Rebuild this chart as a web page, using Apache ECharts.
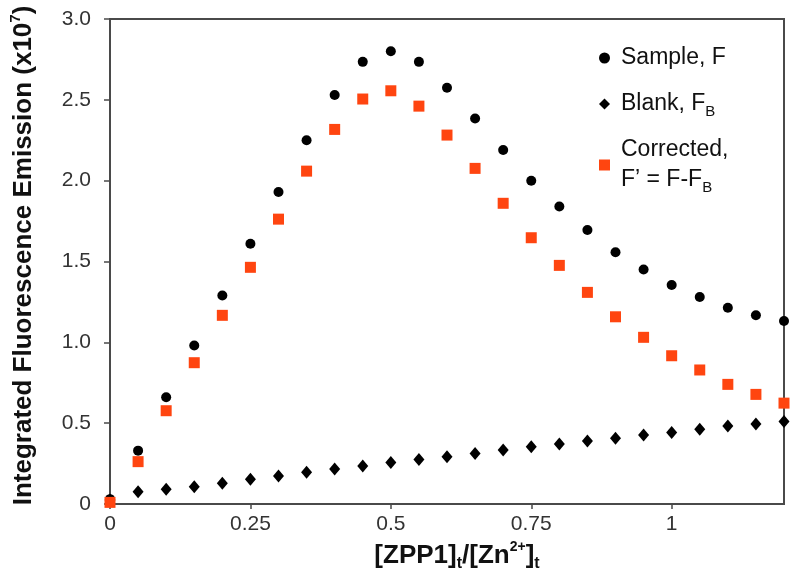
<!DOCTYPE html>
<html>
<head>
<meta charset="utf-8">
<script src="https://cdn.jsdelivr.net/npm/echarts@6/dist/echarts.min.js"></script>
<style>
html,body{margin:0;padding:0;background:#fff;}
#chart{width:800px;height:580px;}
</style>
</head>
<body>
<div id="chart"></div>
<script>
// ---- data ----
const ratios = [0, 0.05, 0.1, 0.15, 0.2, 0.25, 0.3, 0.35, 0.4, 0.45, 0.5, 0.55, 0.6, 0.65, 0.7, 0.75, 0.8, 0.85, 0.9, 0.95, 1.0, 1.05, 1.1, 1.15, 1.2];
const sampleF = [0.03, 0.33, 0.66, 0.98, 1.29, 1.61, 1.93, 2.25, 2.53, 2.735, 2.80, 2.735, 2.575, 2.385, 2.19, 2.0, 1.84, 1.695, 1.557, 1.451, 1.355, 1.28, 1.214, 1.168, 1.132];
const blankFB = [0.025, 0.076, 0.091, 0.107, 0.128, 0.153, 0.173, 0.196, 0.216, 0.235, 0.256, 0.276, 0.293, 0.313, 0.334, 0.354, 0.371, 0.390, 0.406, 0.427, 0.443, 0.462, 0.482, 0.495, 0.511];
const correctedF = [0.01, 0.262, 0.577, 0.874, 1.167, 1.464, 1.762, 2.059, 2.317, 2.505, 2.556, 2.461, 2.282, 2.076, 1.860, 1.647, 1.476, 1.309, 1.158, 1.031, 0.917, 0.829, 0.740, 0.678, 0.624];
const xTicks = [0, 0.25, 0.5, 0.75, 1];
const yTicks = [0, 0.5, 1.0, 1.5, 2.0, 2.5, 3.0];
const seriesNames = ['Sample, F', 'Blank, FB', 'Corrected, F\u2019 = F-FB'];

const pairs = ys => ratios.map((x, i) => [x, ys[i]]);
const FONT = '"Liberation Sans", Arial, Helvetica, sans-serif';
const AXIS = '#4a4a4a';

const legendLabels = {
  'Sample, F': 'Sample, F',
  'Blank, FB': 'Blank, F{sub|B}',
  'Corrected, F\u2019 = F-FB': 'Corrected,\nF\u2019 = F-F{sub|B}'
};

const chart = echarts.init(document.getElementById('chart'), null, {renderer: 'canvas'});
chart.setOption({
  animation: false,
  backgroundColor: '#fff',
  textStyle: {fontFamily: FONT},
  grid: {left: 106, right: 16, top: 19, bottom: 76, show: true, borderColor: AXIS, borderWidth: 2, backgroundColor: 'transparent'},
  legend: {
    orient: 'vertical',
    left: 599, top: 43,
    padding: 0,
    itemGap: 16,
    itemWidth: 11, itemHeight: 11,
    selectedMode: false,
    data: [
      {name: seriesNames[0], icon: 'circle', itemStyle: {color: '#000', opacity: 1}},
      {name: seriesNames[1], icon: 'diamond', itemStyle: {color: '#000', opacity: 1}},
      {name: seriesNames[2], icon: 'rect', itemStyle: {color: '#ff4510', opacity: 1}}
    ],
    formatter: n => legendLabels[n],
    textStyle: {
      fontFamily: FONT, fontSize: 23, color: '#111', lineHeight: 30, padding: [0, 0, 0, 6],
      rich: {
        sub: {fontFamily: FONT, fontSize: 15, color: '#111', verticalAlign: 'bottom', lineHeight: 30}
      }
    }
  },
  xAxis: {
    type: 'value', min: 0, max: 1.2, interval: 0.25,
    name: '[ZPP1]{sub|t}/[Zn{sup|2+}]{sub|t}',
    nameLocation: 'middle', nameGap: 32,
    nameTextStyle: {
      fontFamily: FONT, fontSize: 26, fontWeight: 'bold', color: '#111', lineHeight: 32, padding: [0, 0, 0, 20],
      rich: {
        sub: {fontFamily: FONT, fontSize: 16, fontWeight: 'bold', color: '#111', verticalAlign: 'bottom', lineHeight: 32},
        sup: {fontFamily: FONT, fontSize: 14, color: '#111', verticalAlign: 'top', lineHeight: 32}
      }
    },
    axisLine: {show: true, onZero: false, lineStyle: {color: AXIS, width: 2}},
    axisTick: {show: true, inside: false, length: 5, lineStyle: {color: AXIS, width: 1.5}, customValues: xTicks},
    axisLabel: {fontFamily: FONT, fontSize: 21, color: '#333', margin: 10, customValues: xTicks,
      formatter: v => String(v)},
    splitLine: {show: false}
  },
  yAxis: {
    type: 'value', min: 0, max: 3, interval: 0.5,
    name: 'Integrated Fluorescence Emission (x10{sup|7})',
    nameLocation: 'middle', nameGap: 70, nameRotate: 90,
    nameTextStyle: {
      fontFamily: FONT, fontSize: 26, fontWeight: 'bold', color: '#111', lineHeight: 32, padding: [0, 0, 0, 12],
      rich: {
        sup: {fontFamily: FONT, fontSize: 15, color: '#111', verticalAlign: 'top', lineHeight: 32}
      }
    },
    axisLine: {show: true, onZero: false, lineStyle: {color: AXIS, width: 2}},
    axisTick: {show: true, inside: false, length: 6, lineStyle: {color: AXIS, width: 1.5}, customValues: yTicks},
    axisLabel: {fontFamily: FONT, fontSize: 21, color: '#333', margin: 19, customValues: yTicks,
      formatter: v => v === 0 ? '0' : v.toFixed(1)},
    splitLine: {show: false}
  },
  series: [
    {name: seriesNames[0], type: 'scatter', symbol: 'circle', symbolSize: 10, itemStyle: {color: '#000', opacity: 1}, data: pairs(sampleF), z: 3},
    {name: seriesNames[1], type: 'scatter', symbol: 'diamond', symbolSize: [11, 13], itemStyle: {color: '#000', opacity: 1}, data: pairs(blankFB), z: 3},
    {name: seriesNames[2], type: 'scatter', symbol: 'rect', symbolSize: 11, itemStyle: {color: '#ff4510', opacity: 1}, data: pairs(correctedF), z: 4}
  ]
});
</script>
</body>
</html>
